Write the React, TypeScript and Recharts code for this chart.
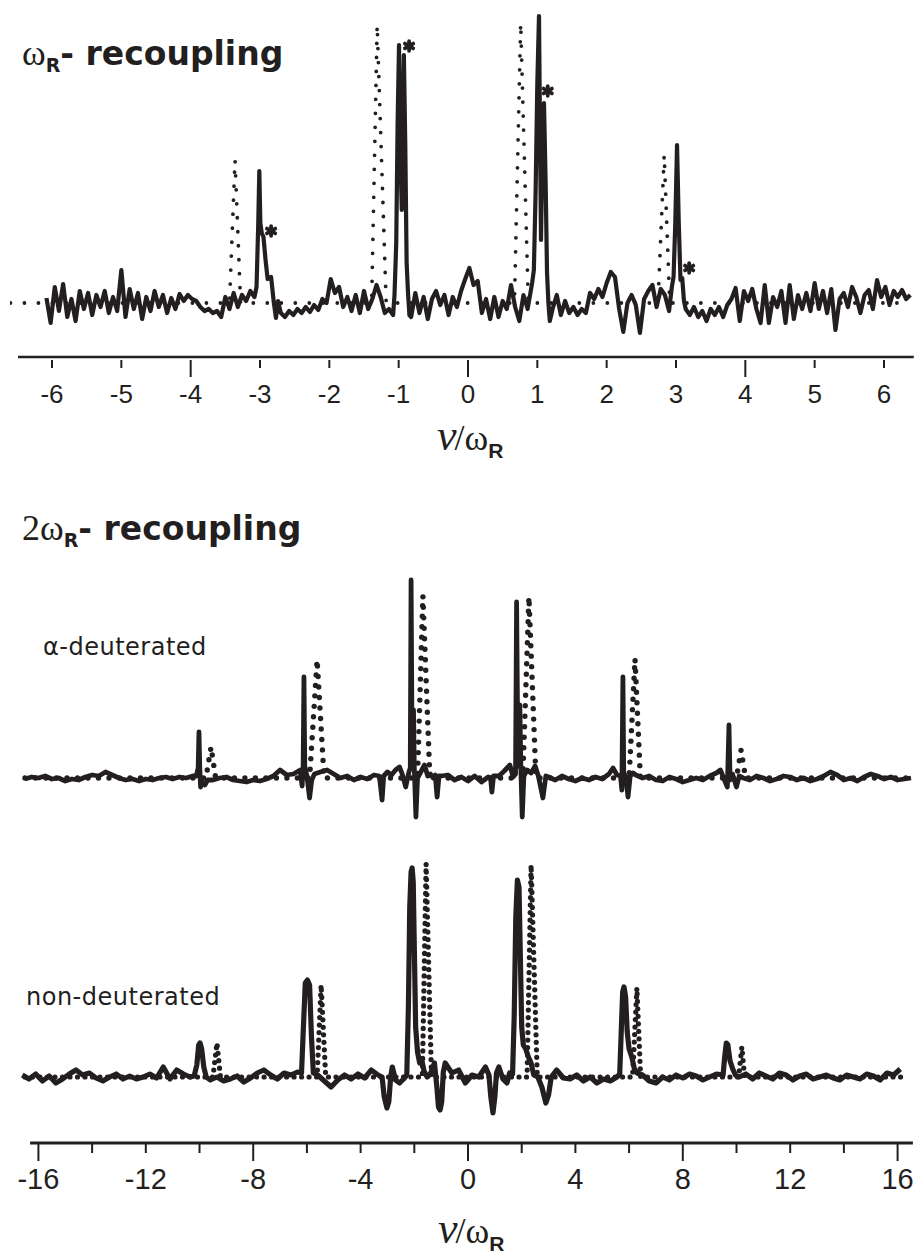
import React from 'react';
import { ComposedChart, Line, Scatter, XAxis, YAxis, ReferenceLine } from 'recharts';

const INK = '#231f20';
const SANS = "'Liberation Sans', Arial, sans-serif";
const VERDANA = "'DejaVu Sans', Verdana, sans-serif";
const SERIF = "'Liberation Serif', 'Times New Roman', serif";

// ---------- top panel: omega_R recoupling (x in units of v/omega_R) ----------
const topTicks = [-6, -5, -4, -3, -2, -1, 0, 1, 2, 3, 4, 5, 6];

// solid trace, baseline noise segments on a 0.06 grid, peaks listed point by point
const topNoiseA = [5, -20, 16, -8, 19, -14, 4, -18, 12, -6, 10, -12, 8, -4, 12, -10, 6, -8, 33, -14,
  14, -6, 10, -16, 6, -8, 12, -4, 8, -10, 5, -6, 9, 2, 8, 4, 2, -4, -8, -6,
  -10, -8, -14, 6, -6, 10, -4, 8, 2, 12, 6];
const topPeakA: [number, number][] = [[-3.05, 16], [-3.025, 80], [-3.01, 132], [-2.995, 80], [-2.975, 70],
  [-2.95, 66], [-2.92, 43], [-2.89, 24], [-2.84, 26], [-2.8, 0], [-2.77, -15], [-2.74, 2]];
const topNoiseB = [-10, -14, -8, -12, -6, -10, -4, -9, -2, -7, 4, 0, 24, 10, 16, -4, 6, -8, 8, -10,
  12, -6, 4, 18, 6, -10, -6, -12];
const topPeakB: [number, number][] = [[-1.06, 8], [-1.035, 60], [-1.015, 180], [-0.995, 258], [-0.975, 150],
  [-0.955, 93], [-0.94, 180], [-0.925, 248], [-0.905, 160], [-0.885, 40], [-0.865, 10], [-0.845, -12]];
const topNoiseC = [-14, 10, -10, 6, -16, 4, 12, -2, 8, -12, 6, -4, 12, 24, 35, 18, 22, -10, 4, -16,
  6, -14, 2, -6, 18, -4, -18, 8, -6];
const topPeakC: [number, number][] = [[0.9, 10], [0.925, 20], [0.95, 33], [0.975, 110], [1.0, 220],
  [1.024, 287], [1.04, 160], [1.053, 63], [1.07, 140], [1.096, 200], [1.12, 120], [1.14, 30], [1.16, 0], [1.18, -18]];
const topNoiseD = [-6, 8, -12, 2, -10, -4, -12, -6, -10, 10, 4, 14, 6, 20, 31, 26, -6, -29, 0, 8,
  -2, -30, 4, 12, 18, -4, 14, 8, -8];
const topPeakD: [number, number][] = [[2.94, 16], [2.965, 26], [2.99, 80], [3.015, 158], [3.04, 80],
  [3.065, 23], [3.09, 25], [3.115, 2]];
const topNoiseE = [-6, -12, -4, -14, -8, -18, -6, -12, -4, -14, -2, 4, 15, -18, 12, 2, 14, -6, -20, 18,
  -20, 6, -4, 12, -20, 18, -16, 8, -6, 10, -8, 20, -6, 12, -10, 14, -27, 4, 10, -4,
  16, 6, -10, 8, 13, -6, 23, 6, 16, -2, 12, 6, 13, 4, 8];

// dotted trace
const topDotted: [number, number][] = [[-6.6, 0], [-3.44, 0], [-3.36, 143], [-3.28, 0], [-1.39, 0], [-1.31, 278],
  [-1.18, 0], [0.67, 0], [0.76, 280], [0.87, 0], [2.74, 0], [2.83, 148], [2.91, 0], [6.35, 0]];

// asterisks marking the split peaks
const topStars: [number, number][] = [[-2.84, 72], [-0.85, 257], [1.15, 212], [3.19, 35]];

// ---------- bottom panel: 2 omega_R recoupling ----------
const bottomTicks = [-16, -14, -12, -10, -8, -6, -4, -2, 0, 2, 4, 6, 8, 10, 12, 14, 16];

// alpha-deuterated, solid
const aNoise1 = [-1, 1, 0, 2, -1, 0, -3, -1, -2, 1, 3, 2, 6, 3, 0, -2, -1, -3, -1, -2, 0, 1, -1, 1, 0, 2];
const aPeak1: [number, number][] = [[-10.12, 2], [-10.05, 10], [-10.02, 46], [-9.99, 10], [-9.96, -9], [-9.9, -4], [-9.8, -7], [-9.7, -2]];
const aNoise2 = [-2, 0, 1, -2, -3, -4, -2, -3, -1, 2, 8, 3, 4];
const aPeak2: [number, number][] = [[-6.25, 8], [-6.18, -8], [-6.14, 10], [-6.11, 101], [-6.08, 12], [-6.0, 2], [-5.9, -20], [-5.82, -2], [-5.72, 4]];
const aNoise3 = [6, 8, 4, 0, 2, -2, 1, -1, 3];
const aPeak3: [number, number][] = [[-3.3, 2], [-3.2, -22], [-3.14, 2], [-3.0, 6], [-2.85, 3], [-2.7, 8], [-2.55, 11], [-2.45, 4],
  [-2.32, -9], [-2.2, 6], [-2.15, 10], [-2.12, 198], [-2.08, 15], [-2.03, 68], [-2.0, 10], [-1.94, -39], [-1.88, 0],
  [-1.78, 5], [-1.62, 13], [-1.5, 2], [-1.4, 4], [-1.3, 0], [-1.22, 3], [-1.15, -19], [-1.08, 2]];
const aNoise4 = [2, 3, -2, 1, -3, 2, -4, 1];
const aPeak4: [number, number][] = [[0.84, 0], [0.89, -14], [0.95, 2], [1.15, 2], [1.35, 7], [1.56, 13], [1.68, 1], [1.77, 4],
  [1.81, 176], [1.86, 12], [1.93, 73], [1.97, 8], [2.02, -39], [2.08, 2], [2.2, 8], [2.35, 5], [2.5, 12], [2.62, 2],
  [2.79, -20], [2.9, 2]];
const aNoise5 = [1, -2, 2, -1, -3, 0, -2, 1, -1, 4];
const aPeak5: [number, number][] = [[5.4, 10], [5.55, 3], [5.68, 2], [5.73, -12], [5.77, 101], [5.8, 5], [5.87, 2], [5.96, -19], [6.04, 2], [6.15, 5]];
const aNoise6 = [3, 0, 2, -2, -3, 1, -1, -4, -2, 0, -2, 2, 5];
const aPeak6: [number, number][] = [[9.4, 8], [9.55, -2], [9.66, -9], [9.72, 53], [9.76, -2], [9.85, 4], [10.0, -9], [10.1, 2]];
const aNoise7 = [0, -2, 2, 0, -3, -1, 2, 1, -2, 0, -3, -1, 2, 6, 3, -2, 0, -3, 1, 4, 2, -1, 1, -2, -1, 0];

// alpha-deuterated, dotted
const aDotted: [number, number][] = [[-16.5, 0], [-9.76, 0], [-9.57, 31], [-9.4, 0], [-5.9, 0], [-5.62, 118], [-5.36, 0],
  [-1.88, 0], [-1.68, 182], [-1.42, 0], [2.04, 0], [2.27, 181], [2.53, 0], [6.0, 0], [6.22, 119], [6.42, 0],
  [10.0, 0], [10.17, 28], [10.34, 0], [16.5, 0]];

// non-deuterated, solid
const nNoise1 = [2, -2, 3, -4, 1, -6, -2, 3, 7, 2, 4, -1, -4, 0, 3, -2, 1, -2, 0, 3, -1, 10, -2, 7, 3, 0];
const nPeak1: [number, number][] = [[-10.2, 1], [-10.1, 12], [-10.03, 32], [-9.98, 34], [-9.92, 28], [-9.84, 10], [-9.75, 0]];
const nNoise2 = [-3, 0, -4, -2, 1, -5, -1, 4, 7, 2, -2, 4, 2, 5];
const nPeak2: [number, number][] = [[-6.2, 4], [-6.13, 50], [-6.06, 94], [-5.98, 97], [-5.9, 92], [-5.83, 40], [-5.76, 4]];
const nNoise3 = [2, -4, -10, -3, 2, -2, 3, -1, 7, 2];
const nPeak3: [number, number][] = [[-3.2, 0], [-3.12, -20], [-3.02, -31], [-2.95, -25], [-2.88, 0], [-2.82, 10], [-2.7, -3],
  [-2.55, -6], [-2.4, -2], [-2.28, 2], [-2.22, 70], [-2.17, 170], [-2.12, 205], [-2.08, 209], [-2.04, 195], [-2.0, 130],
  [-1.95, 50], [-1.88, 25], [-1.8, 14], [-1.72, 17], [-1.64, 6], [-1.52, 0], [-1.4, 3], [-1.25, 14], [-1.16, -10],
  [-1.1, -30], [-1.04, -33], [-0.98, -25], [-0.92, 5]];
const nNoise4 = [14, 4, 7, -6, 2, 0, 10];
const nPeak4: [number, number][] = [[0.78, 2], [0.85, -20], [0.93, -36], [1.0, -20], [1.06, 4], [1.15, 10], [1.3, -2], [1.45, -6],
  [1.55, 4], [1.66, 3], [1.72, 60], [1.78, 160], [1.84, 197], [1.9, 190], [1.95, 120], [2.0, 50], [2.06, 32], [2.15, 28],
  [2.25, 20], [2.35, 14], [2.45, 2], [2.6, 0], [2.75, -10], [2.9, -26], [3.0, -18], [3.1, 0]];
const nNoise5 = [7, -1, -2, 2, -4, 0, -6, -2, -4, 0];
const nPeak5: [number, number][] = [[5.65, 3], [5.7, 40], [5.76, 85], [5.81, 90], [5.87, 80], [5.93, 45], [6.0, 28], [6.1, 20], [6.2, 8], [6.3, 4]];
const nNoise6 = [2, -4, -6, 0, -3, 2, -1, 3, 1, -3, 0, 3];
const nPeak6: [number, number][] = [[9.5, 2], [9.56, 20], [9.62, 34], [9.68, 32], [9.76, 16], [9.86, 8], [9.96, 2]];
const nNoise7 = [0, 3, -2, 4, 1, -2, 4, 2, -3, 1, 3, -2, 0, 2, -1, -3, 2, 0, -2, 3, 1, -3, 4, 2, 8];

// non-deuterated, dotted
const nDotted: [number, number][] = [[-16.5, 0], [-9.5, 0], [-9.35, 34], [-9.22, 0], [-5.62, 0], [-5.47, 92], [-5.3, 0],
  [-1.7, 0], [-1.56, 213], [-1.36, 0], [2.2, 0], [2.35, 212], [2.58, 0], [6.13, 0], [6.29, 89], [6.43, 0],
  [10.08, 0], [10.2, 30], [10.3, 0], [16.2, 0]];

// ---------- layout ----------
const TOP_X: [number, number] = [-6.606, 6.433];
const TOP_Y: [number, number] = [-54, 293];
const BOT_X: [number, number] = [-16.872, 16.611];
const BOT_Y: [number, number] = [-66, 507];
const ALPHA_OFFSET = 299; // vertical stacking of the alpha trace above the non-deuterated one

type P = { x: number; y: number };
const seg = (start: number, step: number, ys: number[], off = 0): P[] =>
  ys.map((y, i) => ({ x: +(start + i * step).toFixed(3), y: y + off }));
const pts = (arr: [number, number][], off = 0): P[] => arr.map(([x, y]) => ({ x, y: y + off }));

const topSolid = [
  ...seg(-6.08, 0.06, topNoiseA), ...pts(topPeakA),
  ...seg(-2.7, 0.06, topNoiseB), ...pts(topPeakB),
  ...seg(-0.82, 0.06, topNoiseC), ...pts(topPeakC),
  ...seg(1.22, 0.06, topNoiseD), ...pts(topPeakD),
  ...seg(3.14, 0.06, topNoiseE),
];

const O = ALPHA_OFFSET;
const alphaSolid = [
  ...seg(-16.5, 0.25, aNoise1, O), ...pts(aPeak1, O),
  ...seg(-9.5, 0.25, aNoise2, O), ...pts(aPeak2, O),
  ...seg(-5.5, 0.25, aNoise3, O), ...pts(aPeak3, O),
  ...seg(-1.0, 0.25, aNoise4, O), ...pts(aPeak4, O),
  ...seg(3.0, 0.25, aNoise5, O), ...pts(aPeak5, O),
  ...seg(6.25, 0.25, aNoise6, O), ...pts(aPeak6, O),
  ...seg(10.25, 0.25, aNoise7, O),
];
const nonSolid = [
  ...seg(-16.6, 0.25, nNoise1), ...pts(nPeak1),
  ...seg(-9.6, 0.25, nNoise2), ...pts(nPeak2),
  ...seg(-5.6, 0.25, nNoise3), ...pts(nPeak3),
  ...seg(-0.85, 0.25, nNoise4), ...pts(nPeak4),
  ...seg(3.3, 0.25, nNoise5), ...pts(nPeak5),
  ...seg(6.5, 0.25, nNoise6), ...pts(nPeak6),
  ...seg(10.1, 0.25, nNoise7),
];

const TopTick = (props: any) => {
  const { x, y, payload } = props;
  const v = payload.value;
  const long = v % 4 === 0;
  return (
    <g>
      <line x1={x} x2={x} y1={y + 3} y2={y + (long ? 20 : 11)} stroke={INK} strokeWidth={2} />
      <text x={x} y={y + 46} textAnchor="middle" fontSize={26} fontFamily={SANS} fill={INK}>{String(v)}</text>
    </g>
  );
};

const BottomTick = (props: any) => {
  const { x, y, payload } = props;
  const v = payload.value;
  const long = v % 8 === 0;
  return (
    <g>
      <line x1={x} x2={x} y1={y} y2={y + (long ? 18 : 10)} stroke={INK} strokeWidth={2} />
      {v % 4 === 0 && (
        <text x={x} y={y + 46} textAnchor="middle" fontSize={29} fontFamily={SANS} fill={INK}>{String(v)}</text>
      )}
    </g>
  );
};

const Star = (props: any) => {
  const { cx, cy } = props;
  const r = 4.8;
  return (
    <g stroke={INK} strokeWidth={3.8} strokeLinecap="round">
      {[90, 30, -30].map((a) => {
        const dx = r * Math.cos((a * Math.PI) / 180);
        const dy = r * Math.sin((a * Math.PI) / 180);
        return <line key={a} x1={cx - dx} y1={cy - dy} x2={cx + dx} y2={cy + dy} />;
      })}
    </g>
  );
};

const AxisTitle = ({ x, y }: { x: number; y: number }) => (
  <text x={x} y={y} fill={INK} fontFamily={SERIF}>
    <tspan fontStyle="italic" fontSize={44}>ν</tspan>
    <tspan fontSize={36} dx={-2}>/ω</tspan>
    <tspan fontFamily={SANS} fontWeight="bold" fontSize={21} dy={8}>R</tspan>
  </text>
);

const App = () => {
  return (
    <div style={{ position: 'absolute', left: 0, top: 0, width: 917, height: 1255, background: '#fff' }}>
      <div style={{ position: 'absolute', left: 0, top: 0 }}>
        <ComposedChart width={917} height={470} margin={{ top: 10, right: 3, left: 10, bottom: 0 }}>
          <XAxis type="number" dataKey="x" domain={TOP_X} allowDataOverflow ticks={topTicks} interval={0}
            axisLine={false} tickLine={false} tickSize={0} tickMargin={0} height={113} tick={<TopTick />} />
          <YAxis type="number" dataKey="y" domain={TOP_Y} allowDataOverflow hide />
          <ReferenceLine segment={[{ x: -6.49, y: TOP_Y[0] }, { x: 6.43, y: TOP_Y[0] }]}
            stroke={INK} strokeWidth={2.5} ifOverflow="visible" />
          <Line data={pts(topDotted)} dataKey="y" type="linear" stroke={INK} strokeWidth={3.8}
            strokeDasharray="0 14" strokeLinecap="round" dot={false} activeDot={false} isAnimationActive={false} />
          <Line data={topSolid} dataKey="y" type="linear" stroke={INK} strokeWidth={4.2}
            strokeLinejoin="round" dot={false} activeDot={false} isAnimationActive={false} />
          <Scatter data={pts(topStars)} dataKey="y" shape={<Star />} isAnimationActive={false} />
        </ComposedChart>
      </div>
      <div style={{ position: 'absolute', left: 0, top: 560 }}>
        <ComposedChart width={917} height={695} margin={{ top: 10, right: 3, left: 15, bottom: 0 }}>
          <XAxis type="number" dataKey="x" domain={BOT_X} allowDataOverflow ticks={bottomTicks} interval={0}
            axisLine={false} tickLine={false} tickSize={0} tickMargin={0} height={112} tick={<BottomTick />} />
          <YAxis type="number" dataKey="y" domain={BOT_Y} allowDataOverflow hide />
          <ReferenceLine segment={[{ x: -16.31, y: BOT_Y[0] }, { x: 16.57, y: BOT_Y[0] }]}
            stroke={INK} strokeWidth={3} ifOverflow="visible" />
          <Line data={pts(aDotted, O)} dataKey="y" type="linear" stroke={INK} strokeWidth={5.4}
            strokeDasharray="0 10.5" strokeLinecap="round" dot={false} activeDot={false} isAnimationActive={false} />
          <Line data={alphaSolid} dataKey="y" type="linear" stroke={INK} strokeWidth={4.8}
            strokeLinejoin="round" dot={false} activeDot={false} isAnimationActive={false} />
          <Line data={pts(nDotted)} dataKey="y" type="linear" stroke={INK} strokeWidth={5.2}
            strokeDasharray="0 7.5" strokeLinecap="round" dot={false} activeDot={false} isAnimationActive={false} />
          <Line data={nonSolid} dataKey="y" type="linear" stroke={INK} strokeWidth={5.2}
            strokeLinejoin="round" dot={false} activeDot={false} isAnimationActive={false} />
        </ComposedChart>
      </div>
      <svg width={917} height={1255} style={{ position: 'absolute', left: 0, top: 0, pointerEvents: 'none' }}>
        <text x={22} y={65} fill={INK}>
          <tspan fontFamily={SERIF} fontSize={36}>ω</tspan>
          <tspan fontFamily={VERDANA} fontWeight="bold" fontSize={19} dy={7}>R</tspan>
          <tspan fontFamily={VERDANA} fontWeight="bold" fontSize={33} dy={-7}>- recoupling</tspan>
        </text>
        <text x={22} y={540} fill={INK}>
          <tspan fontFamily={SERIF} fontSize={36}>2ω</tspan>
          <tspan fontFamily={VERDANA} fontWeight="bold" fontSize={19} dy={7}>R</tspan>
          <tspan fontFamily={VERDANA} fontWeight="bold" fontSize={33} dy={-7}>- recoupling</tspan>
        </text>
        <text x={43} y={655} fill={INK} fontFamily={VERDANA} fontSize={24} letterSpacing={0.5}>α-deuterated</text>
        <text x={26} y={1005} fill={INK} fontFamily={VERDANA} fontSize={24} letterSpacing={0.5}>non-deuterated</text>
        <AxisTitle x={437} y={450} />
        <AxisTitle x={438} y={1243} />
      </svg>
    </div>
  );
};

export default App;
